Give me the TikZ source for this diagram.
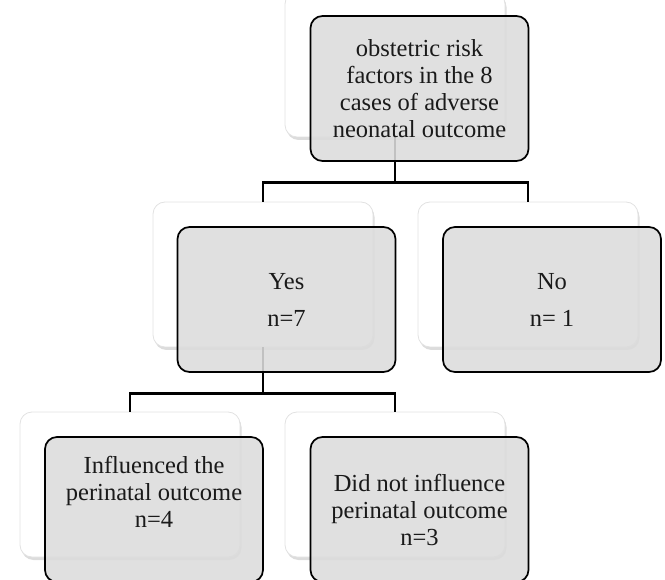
\documentclass[tikz,border=0pt]{standalone}
\usepackage{fontspec}
\setmainfont{Liberation Serif}
\usetikzlibrary{shadows}
\definecolor{boxgrey}{HTML}{DCDCDC}
\definecolor{ghostline}{HTML}{E2E2E2}
\definecolor{txtcol}{HTML}{1A1A1A}
\tikzset{
  ghost/.style={draw=ghostline, line width=0.8pt, fill=white, rounded corners=12pt,
    minimum width=220pt, minimum height=145pt, inner sep=0pt,
    drop shadow={opacity=0.28, shadow xshift=1.5pt, shadow yshift=-3pt}},
  greybox/.style={draw=black, line width=1.7pt, fill=boxgrey, fill opacity=0.88, text opacity=1,
    rounded corners=12pt, minimum width=218pt, minimum height=145pt, inner sep=0pt,
    align=center, text=txtcol, font=\fontsize{24.5pt}{27pt}\selectfont},
  txt/.style={align=center, text=txtcol, inner sep=0pt, font=\fontsize{24.5pt}{27pt}\selectfont},
  conn/.style={draw=black, line width=2.5pt}
}
\begin{document}
\begin{tikzpicture}[x=1pt,y=-1pt]
\useasboundingbox (0,0) rectangle (665,580);
% ghost boxes
\node[ghost] (gtop) at (395,64.5) {};
\node[ghost] (gyes) at (263,274.5) {};
\node[ghost] (gno) at (528,274.5) {};
\node[ghost] (gl) at (130,484.5) {};
\node[ghost] (gr) at (395,484.5) {};
% connectors
\draw[conn] (gtop.south) -- ++(0,45) coordinate (j1) -| (gyes.north);
\draw[conn] (j1) -| (gno.north);
\draw[conn] (gyes.south) -- ++(0,46) coordinate (j2) -| (gl.north);
\draw[conn] (j2) -| (gr.north);
% grey boxes
\node[greybox] (top) at (419.5,88.5) {obstetric risk\\factors in the 8\\cases of adverse\\neonatal outcome};
\node[greybox] (yes) at (286.5,299.5) {Yes\\[10pt]n=7};
\node[greybox] (no) at (552,299.5) {No\\[10pt]n= 1};
\node[greybox] (bl) at (154,509.5) {};
\node[txt] (blt) at (154,492) {Influenced the\\perinatal outcome\\n=4};
\node[greybox] (br) at (419.5,509.5) {Did not influence\\perinatal outcome\\n=3};
\end{tikzpicture}
\end{document}
